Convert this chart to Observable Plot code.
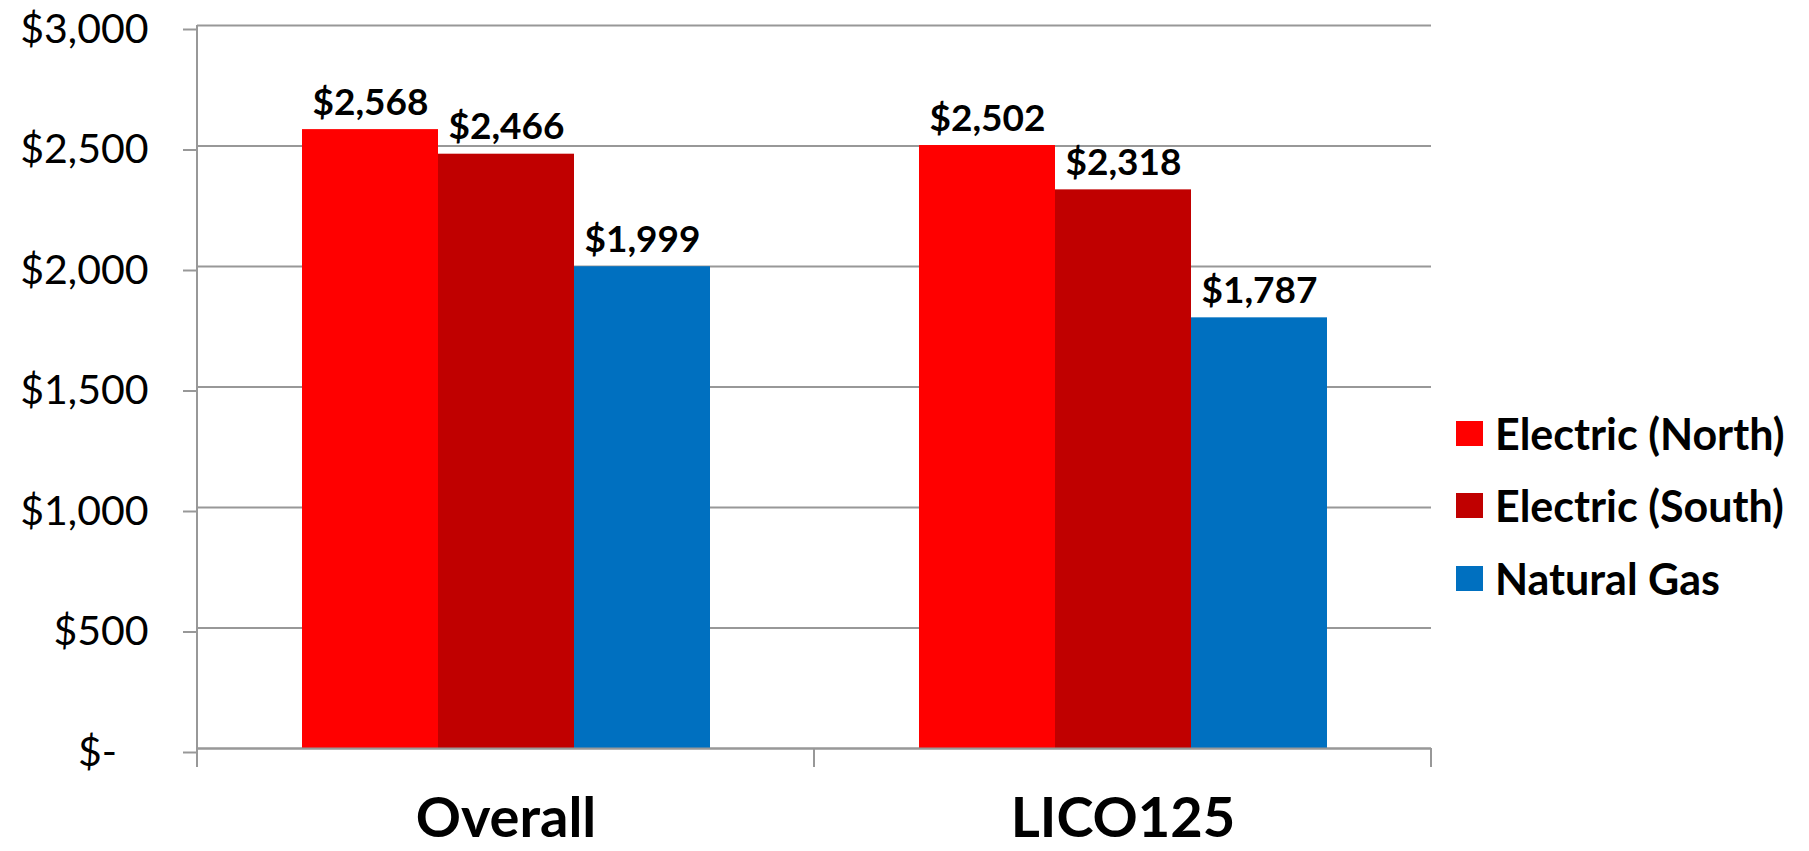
<!DOCTYPE html>
<html>
<head>
<meta charset="utf-8">
<script src="https://cdn.jsdelivr.net/npm/d3@7"></script>
<script src="https://cdn.jsdelivr.net/npm/@observablehq/plot@0.6"></script>
<style>
  html, body { margin: 0; padding: 0; background: #fff; }
  #wrap { position: relative; width: 1809px; height: 851px; font-family: Lato, sans-serif; }
  #legend { position: absolute; left: 1456px; top: 397px; }
  .row { display: flex; align-items: center; height: 72.5px; }
  .sw { width: 27px; height: 25px; margin-right: 12px; }
  .lab { font-size: 43px; font-weight: bold; color: #000; white-space: nowrap; }
</style>
</head>
<body>
<div id="wrap"></div>
<script>
const categories = ["Overall", "LICO125"];
const series = ["Electric (North)", "Electric (South)", "Natural Gas"];
const overallValues = [2568, 2466, 1999];
const lico125Values = [2502, 2318, 1787];
const seriesColors = ["#FF0000", "#C00000", "#0070C0"];
const yTicks = [0, 500, 1000, 1500, 2000, 2500, 3000];

const valuesByCategory = [overallValues, lico125Values];
const rows = [];
categories.forEach((c, i) => series.forEach((s, j) => rows.push({category: c, series: s, value: valuesByCategory[i][j]})));

const money = d3.format(",");
const yFmt = d => d === 0 ? "$-\u00a0\u00a0\u00a0" : "$" + money(d);
const grid = "#989898";

const plot = Plot.plot({
  width: 1809,
  height: 851,
  marginLeft: 196,
  marginRight: 378,
  marginTop: 25,
  marginBottom: 103,
  style: {fontFamily: "Lato, sans-serif", color: "#000", background: "#fff"},
  fx: {domain: categories, padding: 0, label: null, axis: null},
  x: {domain: series, paddingInner: 0, paddingOuter: 0.754, axis: null},
  y: {domain: [0, 3000], axis: null},
  color: {domain: series, range: seriesColors},
  marks: [
    Plot.gridY(yTicks, {stroke: grid, strokeOpacity: 1, strokeWidth: 2}),
    Plot.barY(rows, {fx: "category", x: "series", y: "value", fill: "series"}),
    Plot.ruleY([0], {stroke: grid, strokeWidth: 2}),
    Plot.axisY(yTicks, {tickSize: 14, tickPadding: 35, tickFormat: yFmt, fontSize: 41, stroke: grid, strokeWidth: 2, fill: "#000", label: null, dy: 4}),
    Plot.axisFx({anchor: "bottom", tickSize: 0, tickPadding: 49, fontSize: 56, fontWeight: "bold", fill: "#000", label: null}),
    Plot.text(rows, {fx: "category", x: "series", y: "value", text: d => "$" + money(d.value), lineAnchor: "bottom", dy: -15, fontSize: 37, fontWeight: "bold", fill: "#000"})
  ]
});

// axis line and category boundary ticks from the library's scales
const fxS = plot.scale("fx"), yS = plot.scale("y");
const edges = categories.map(c => fxS.apply(c));
edges.push(fxS.apply(categories[categories.length - 1]) + fxS.bandwidth);
const y0 = yS.apply(0), yTop = yS.apply(3000);
const g = d3.select(plot).append("g").attr("stroke", grid).attr("stroke-width", 2);
g.append("line").attr("x1", edges[0]).attr("x2", edges[0]).attr("y1", yTop).attr("y2", y0 + 19);
edges.slice(1).forEach(x => g.append("line").attr("x1", x).attr("x2", x).attr("y1", y0).attr("y2", y0 + 19));

const wrap = document.getElementById("wrap");
wrap.appendChild(plot);

const legend = document.createElement("div");
legend.id = "legend";
series.forEach((s, i) => {
  const r = document.createElement("div");
  r.className = "row";
  const sw = document.createElement("div");
  sw.className = "sw";
  sw.style.background = seriesColors[i];
  const lab = document.createElement("div");
  lab.className = "lab";
  lab.textContent = s;
  r.appendChild(sw); r.appendChild(lab);
  legend.appendChild(r);
});
wrap.appendChild(legend);
</script>
</body>
</html>
